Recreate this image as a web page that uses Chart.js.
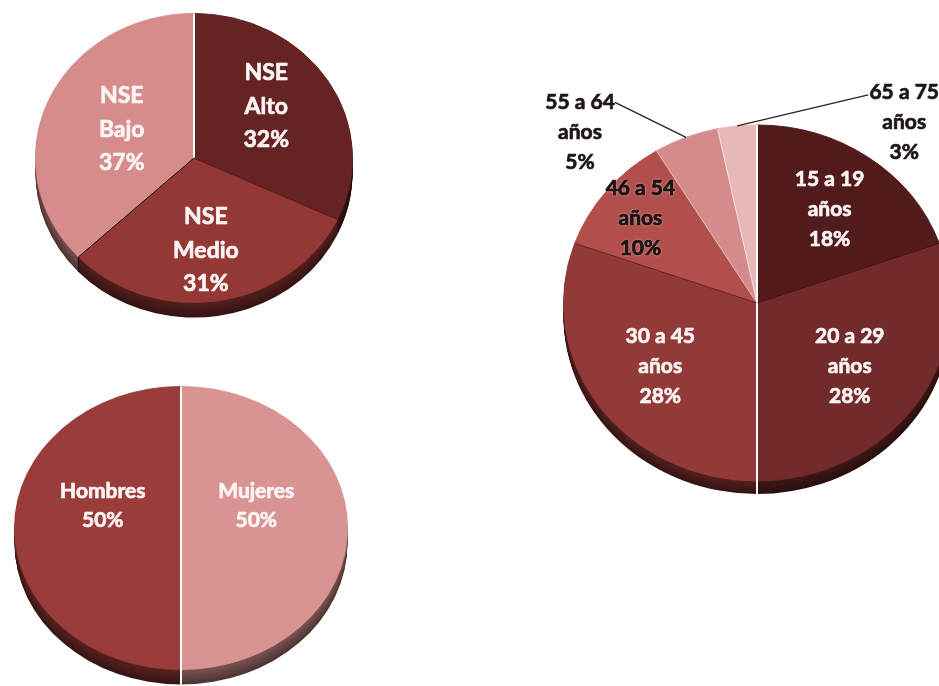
<!DOCTYPE html>
<html lang="es">
<head>
<meta charset="utf-8">
<title>Distribución de la muestra</title>
<script src="https://cdn.jsdelivr.net/npm/chart.js@4.4.1/dist/chart.umd.min.js"></script>
<style>
  html, body { margin: 0; padding: 0; background: #fff; }
  #page { position: relative; width: 939px; height: 686px; overflow: hidden; background: #fff; }
  #page canvas { position: absolute; }
</style>
</head>
<body>
<div id="page">
  <canvas id="nseChart"></canvas>
  <canvas id="sexChart"></canvas>
  <canvas id="ageChart"></canvas>
</div>
<script>
// Nivel socioeconómico
const nseLabels = [['NSE', 'Alto'], ['NSE', 'Medio'], ['NSE', 'Bajo']];
const nseValues = [32, 31, 37];
const nseColors = ['#652323', '#933835', '#d58c8b'];

// Sexo
const sexLabels = [['Hombres'], ['Mujeres']];
const sexValues = [50, 50];
const sexColors = ['#9a3c3a', '#d99391'];

// Rango de edad
const ageLabels = [['15 a 19', 'años'], ['20 a 29', 'años'], ['30 a 45', 'años'],
                   ['46 a 54', 'años'], ['55 a 64', 'años'], ['65 a 75', 'años']];
const ageValues = [18, 28, 28, 10, 5, 3];
const ageColors = ['#521b1b', '#722a2a', '#923a37', '#b24e4b', '#d48c8b', '#e8b8b8'];

const FONT = 'Lato, "Open Sans", sans-serif';
const WHITE_TEXT = '#fbf4f4';
const DARK_TEXT = '#1e1515';

// multiply a hex colour towards black
function shade(hex, f) {
    const n = parseInt(hex.slice(1), 16);
    const r = Math.round(((n >> 16) & 255) * f);
    const g = Math.round(((n >> 8) & 255) * f);
    const b = Math.round((n & 255) * f);
    return `rgb(${r},${g},${b})`;
}

// Fake 3D: squash the pie vertically, add a darker side wall underneath,
// draw radial edges and multi-line labels.
const pie3d = {
    id: 'pie3d',
    beforeDatasetsDraw(chart, args, opts) {
        const ctx = chart.ctx;
        const arcs = chart.getDatasetMeta(0).data;
        if (!arcs.length) return;
        const cx = arcs[0].x, cy = arcs[0].y;
        const colors = chart.data.datasets[0].backgroundColor;
        for (let d = opts.depth; d >= 1; d--) {
            const f = 0.58 - 0.22 * d / opts.depth;
            ctx.save();
            ctx.translate(cx, cy + d);
            ctx.scale(1, opts.tilt);
            ctx.translate(-cx, -cy);
            arcs.forEach((arc, i) => {
                ctx.beginPath();
                ctx.moveTo(arc.x, arc.y);
                ctx.arc(arc.x, arc.y, arc.outerRadius, arc.startAngle, arc.endAngle);
                ctx.closePath();
                ctx.fillStyle = shade(colors[i], f);
                ctx.fill();
            });
            ctx.restore();
        }
        ctx.save();
        ctx.translate(cx, cy);
        ctx.scale(1, opts.tilt);
        ctx.translate(-cx, -cy);
    },
    afterDatasetsDraw(chart, args, opts) {
        const ctx = chart.ctx;
        const arcs = chart.getDatasetMeta(0).data;
        if (!arcs.length) return;
        ctx.restore();
        const cx = arcs[0].x, cy = arcs[0].y;
        arcs.forEach((arc, i) => {
            const e = opts.edges[i];
            if (!e) return;
            const a = arc.startAngle;
            const ex = cx + arc.outerRadius * Math.cos(a);
            const ey = cy + arc.outerRadius * Math.sin(a) * opts.tilt;
            ctx.save();
            ctx.strokeStyle = e.color;
            ctx.lineWidth = e.width;
            ctx.beginPath();
            ctx.moveTo(cx, cy);
            ctx.lineTo(ex, ey);
            // edges facing the viewer run down the side wall too
            if (Math.sin(a) > 0.5) ctx.lineTo(ex, ey + opts.depth);
            ctx.stroke();
            ctx.restore();
        });
    },
    afterDraw(chart, args, opts) {
        const ctx = chart.ctx;
        const arcs = chart.getDatasetMeta(0).data;
        const L = opts.labels;
        const values = chart.data.datasets[0].data;
        const capH = L.size * 0.72;
        arcs.forEach((arc, i) => {
            const cx = arc.x, cy = arc.y;
            const mid = (arc.startAngle + arc.endAngle) / 2;
            const lines = chart.data.labels[i].concat(values[i] + '%');
            let px, py, color = WHITE_TEXT, glow = false;
            const out = L.outside && L.outside[i];
            ctx.save();
            if (out) {
                const ax = cx + arc.outerRadius * Math.cos(mid);
                const ay = cy + arc.outerRadius * Math.sin(mid) * opts.tilt;
                px = ax + out.dx;
                py = ay + out.dy;
                color = DARK_TEXT;
                ctx.strokeStyle = '#2a2222';
                ctx.lineWidth = 1.3;
                ctx.beginPath();
                ctx.moveTo(ax, ay);
                ctx.lineTo(px + out.lx, py + out.ly);
                ctx.stroke();
            } else {
                const r = arc.outerRadius * L.radius;
                const n = (L.nudge && L.nudge[i]) || [0, 0];
                px = cx + r * Math.cos(mid) + n[0];
                py = cy + r * Math.sin(mid) * opts.tilt + n[1];
                if (L.dark && L.dark.includes(i)) { color = DARK_TEXT; glow = true; }
            }
            ctx.font = `bold ${L.size}px ${FONT}`;
            ctx.textAlign = 'center';
            ctx.textBaseline = 'alphabetic';
            ctx.fillStyle = color;
            ctx.strokeStyle = color;
            ctx.lineWidth = 0.7;
            ctx.lineJoin = 'round';
            const top = py - (lines.length - 1) * L.lineHeight / 2;
            lines.forEach((t, k) => {
                const y = top + k * L.lineHeight + capH / 2;
                if (glow) {
                    // light halo behind dark text on the mid-red slice
                    ctx.shadowColor = 'rgba(255,225,225,0.8)';
                    ctx.shadowBlur = 3;
                    ctx.fillText(t, px, y);
                    ctx.shadowColor = 'transparent';
                    ctx.shadowBlur = 0;
                }
                ctx.fillText(t, px, y);
                ctx.strokeText(t, px, y);
            });
            ctx.restore();
        });
    }
};

function makePie(id, place, labels, values, colors, rotation, look) {
    const el = document.getElementById(id);
    const pad = 60;
    const size = 2 * (place.r + pad);
    el.width = size;
    el.height = size;
    el.style.left = (place.cx - size / 2) + 'px';
    el.style.top = (place.cy - size / 2) + 'px';
    return new Chart(el, {
        type: 'pie',
        data: {
            labels: labels,
            datasets: [{
                data: values,
                backgroundColor: colors,
                borderColor: colors,
                borderWidth: 1,
                hoverOffset: 0
            }]
        },
        options: {
            responsive: false,
            animation: false,
            events: [],
            rotation: rotation,
            layout: { padding: pad },
            plugins: {
                legend: { display: false },
                tooltip: { enabled: false },
                pie3d: look
            }
        },
        plugins: [pie3d]
    });
}

makePie('nseChart', { cx: 194, cy: 158, r: 159 }, nseLabels, nseValues, nseColors, 0, {
    tilt: 0.912,
    depth: 15,
    edges: [{ color: '#ffffff', width: 2 }, { color: 'rgba(40,8,8,0.6)', width: 1 }, null],
    labels: { size: 23, lineHeight: 33.5, radius: 0.6,
              nudge: [[-8, -6], [-3, 6], [15, 5]] }
});

makePie('sexChart', { cx: 181, cy: 528, r: 167 }, sexLabels, sexValues, sexColors, 180, {
    tilt: 0.85,
    depth: 15,
    edges: [{ color: '#ffffff', width: 2 }, { color: '#ffffff', width: 2 }],
    labels: { size: 21, lineHeight: 29, radius: 0.5,
              nudge: [[5, -23], [-8, -23]] }
});

makePie('ageChart', { cx: 757, cy: 303, r: 194 }, ageLabels, ageValues, ageColors, 0, {
    tilt: 0.92,
    depth: 13,
    edges: [
        { color: '#ffffff', width: 2 },
        { color: 'rgba(30,5,5,0.6)', width: 1 },
        { color: '#ffffff', width: 2 },
        { color: 'rgba(40,8,8,0.6)', width: 1 },
        { color: 'rgba(255,230,230,0.5)', width: 1 },
        { color: 'rgba(255,240,240,0.7)', width: 1 }
    ],
    labels: { size: 21, lineHeight: 30, radius: 0.65,
              nudge: [[0, 0], [-10, -4], [6, -4], [-19, -13]],
              dark: [3],
              outside: {
                  4: { dx: -106, dy: -6, lx: 35, ly: -29 },
                  5: { dx: 167, dy: -4, lx: -36, ly: -27 }
              } }
});
</script>
</body>
</html>
